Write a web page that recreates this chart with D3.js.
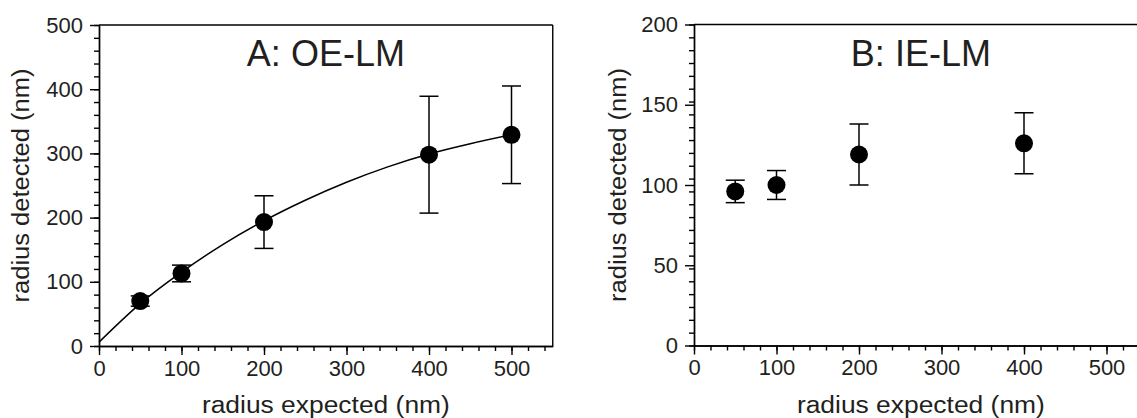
<!DOCTYPE html>
<html>
<head>
<meta charset="utf-8">
<script src="https://cdn.jsdelivr.net/npm/d3@7"></script>
<style>
  body { margin: 0; background: #fff; }
  svg { display: block; }
  .tick text { font-family: "Liberation Sans", Arial, Helvetica, sans-serif; font-size: 22px; fill: #231f20; }
  .lbl { font-family: "Liberation Sans", Arial, Helvetica, sans-serif; fill: #231f20; }
</style>
</head>
<body>
<div id="chart"></div>
<script>
// ---------- data ----------
var expectedA = [50, 100, 200, 400, 500];
var detectedA = [70, 113, 193, 298, 329];
var errorA    = [8, 13, 41, 91, 76];

// fitted curve, read point by point
var curveX = [0, 50, 100, 150, 200, 250, 300, 350, 400, 450, 500];
var curveY = [6, 66, 115, 158, 195, 227, 255, 279, 299, 315, 329];

var expectedB = [50, 100, 200, 400];
var detectedB = [96, 100, 119, 126];
var errorB    = [7, 9, 19, 19];

var xTicks = [0, 100, 200, 300, 400, 500];
var yTicksA = [0, 100, 200, 300, 400, 500];
var yTicksB = [0, 50, 100, 150, 200];

var width = 1137, height = 418;

var svg = d3.select("#chart").append("svg")
    .attr("width", width)
    .attr("height", height);

function panel(opt) {
  var x = d3.scaleLinear().domain([0, 550]).range([opt.left, opt.left + 453.75]);
  var y = d3.scaleLinear().domain([0, opt.ymax]).range([opt.bottom, opt.top]);
  var g = svg.append("g");

  // minor ticks
  g.append("g")
    .attr("transform", "translate(0," + opt.bottom + ")")
    .call(d3.axisBottom(x).tickValues(d3.range(0, 551, 20)).tickSize(5).tickSizeOuter(0).tickFormat(""))
    .call(s => s.selectAll("line,path").attr("stroke", "#000").attr("stroke-width", 1.4));
  g.append("g")
    .attr("transform", "translate(" + opt.left + ",0)")
    .call(d3.axisLeft(y).tickValues(d3.range(0, opt.ymax + 0.1, opt.ymax / 25)).tickSize(5).tickSizeOuter(0).tickFormat(""))
    .call(s => s.selectAll("line,path").attr("stroke", "#000").attr("stroke-width", 1.4));

  // major ticks
  g.append("g")
    .attr("transform", "translate(0," + opt.bottom + ")")
    .call(d3.axisBottom(x).tickValues(xTicks).tickSize(9).tickPadding(5).tickSizeOuter(0))
    .call(s => s.selectAll("line,path").attr("stroke", "#000").attr("stroke-width", 1.4));
  g.append("g")
    .attr("transform", "translate(" + opt.left + ",0)")
    .call(d3.axisLeft(y).tickValues(opt.yTicks).tickSize(9).tickPadding(7).tickSizeOuter(0))
    .call(s => s.selectAll("line,path").attr("stroke", "#000").attr("stroke-width", 1.4));

  // frame
  g.append("line")
    .attr("x1", opt.left).attr("x2", x(550))
    .attr("y1", opt.top).attr("y2", opt.top)
    .attr("stroke", "#000").attr("stroke-width", 1.4);
  g.append("line")
    .attr("x1", x(550)).attr("x2", x(550))
    .attr("y1", opt.top).attr("y2", opt.bottom)
    .attr("stroke", "#000").attr("stroke-width", 1.4);

  // title
  g.append("text").attr("class", "lbl")
    .attr("x", (x(0) + x(550)) / 2).attr("y", 66)
    .attr("text-anchor", "middle")
    .style("font-size", "36px")
    .text(opt.title);

  // axis labels
  g.append("text").attr("class", "lbl")
    .attr("x", (x(0) + x(550)) / 2).attr("y", 413)
    .attr("text-anchor", "middle")
    .attr("textLength", 248).attr("lengthAdjust", "spacingAndGlyphs")
    .style("font-size", "23px")
    .text("radius expected (nm)");
  g.append("text").attr("class", "lbl")
    .attr("transform", "translate(" + opt.ylabX + "," + (opt.top + opt.bottom) / 2 + ") rotate(-90)")
    .attr("text-anchor", "middle")
    .attr("textLength", 234).attr("lengthAdjust", "spacingAndGlyphs")
    .style("font-size", "23px")
    .text("radius detected (nm)");

  if (opt.curveX) {
    g.append("path")
      .datum(opt.curveX.map((d, i) => [d, opt.curveY[i]]))
      .attr("fill", "none").attr("stroke", "#000").attr("stroke-width", 1.5)
      .attr("d", d3.line().x(d => x(d[0])).y(d => y(d[1])).curve(d3.curveMonotoneX));
  }

  var pts = opt.xs.map((d, i) => ({x: d, y: opt.ys[i], e: opt.es[i]}));
  var eb = g.selectAll(".eb").data(pts).enter().append("g").attr("class", "eb")
    .attr("stroke", "#000").attr("stroke-width", 1.5);
  eb.append("line")
    .attr("x1", d => x(d.x)).attr("x2", d => x(d.x))
    .attr("y1", d => y(d.y - d.e)).attr("y2", d => y(d.y + d.e));
  eb.append("line")
    .attr("x1", d => x(d.x) - 9.5).attr("x2", d => x(d.x) + 9.5)
    .attr("y1", d => y(d.y + d.e)).attr("y2", d => y(d.y + d.e));
  eb.append("line")
    .attr("x1", d => x(d.x) - 9.5).attr("x2", d => x(d.x) + 9.5)
    .attr("y1", d => y(d.y - d.e)).attr("y2", d => y(d.y - d.e));

  g.selectAll(".pt").data(pts).enter().append("circle")
    .attr("class", "pt")
    .attr("cx", d => x(d.x)).attr("cy", d => y(d.y))
    .attr("r", 9).attr("fill", "#000");
}

panel({left: 99, top: 25, bottom: 346, ymax: 500, yTicks: yTicksA, title: "A: OE-LM", ylabX: 29,
       xs: expectedA, ys: detectedA, es: errorA, curveX: curveX, curveY: curveY});
panel({left: 694, top: 24.5, bottom: 345.5, ymax: 200, yTicks: yTicksB, title: "B: IE-LM", ylabX: 626,
       xs: expectedB, ys: detectedB, es: errorB});
</script>
</body>
</html>
